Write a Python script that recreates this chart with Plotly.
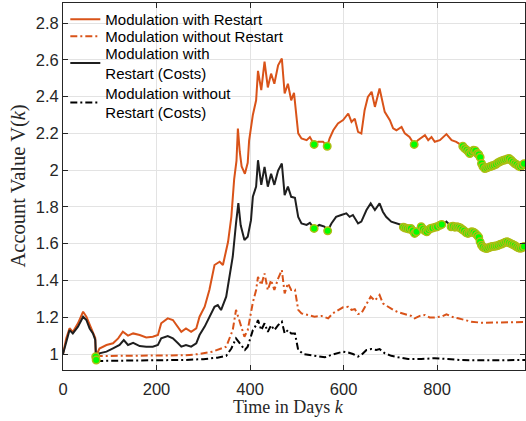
import plotly.graph_objects as go

# ---------------- data ----------------
days_restart = [0, 7, 14, 21, 32, 43, 50, 57, 64, 69, 70, 78, 93, 107, 118, 128, 139, 150, 164, 178,
                192, 203, 210, 224, 235, 246, 253, 263, 274, 285, 292, 303, 313, 324, 335, 342, 353, 360,
                366, 371, 374, 378, 382, 389, 395, 398, 406, 413, 417, 424, 431, 438, 445, 452, 460, 468,
                474, 481, 488, 494, 499, 503, 510, 521, 528, 537, 546, 556, 565, 570, 578, 588, 599, 610,
                617, 624, 631, 638, 645, 652, 660, 667, 677, 684, 688, 699, 706, 713, 724, 731, 741, 751,
                759, 774, 781, 788, 795, 806, 820, 831, 841, 852, 859, 870, 880, 891, 895, 902, 912, 923,
                934, 944, 955, 966, 977, 988]
value_restart = [1.0, 1.085, 1.14, 1.12, 1.167, 1.23, 1.203, 1.158, 1.12, 1.087, 0.985, 1.03, 1.049, 1.058,
                 1.085, 1.121, 1.1, 1.112, 1.103, 1.09, 1.094, 1.103, 1.167, 1.194, 1.185, 1.149, 1.121,
                 1.139, 1.121, 1.139, 1.203, 1.257, 1.348, 1.484, 1.502, 1.484, 1.61, 1.746, 1.95, 2.05,
                 2.226, 2.1, 2.02, 1.98, 2.04, 2.16, 2.30, 2.38, 2.54, 2.435, 2.59, 2.45, 2.525, 2.47, 2.57,
                 2.607, 2.417, 2.47, 2.38, 2.42, 2.30, 2.2, 2.172, 2.163, 2.18, 2.14, 2.155, 2.155, 2.13,
                 2.172, 2.217, 2.254, 2.272, 2.308, 2.262, 2.28, 2.208, 2.199, 2.326, 2.398, 2.426, 2.344,
                 2.444, 2.371, 2.317, 2.272, 2.227, 2.217, 2.235, 2.2, 2.18, 2.14, 2.163, 2.19, 2.163, 2.18,
                 2.154, 2.163, 2.196, 2.163, 2.154, 2.136, 2.118, 2.09, 2.109, 2.081, 2.036, 2.009, 2.018,
                 2.027, 2.045, 2.054, 2.063, 2.036, 2.018, 2.04]

days_norestart = [70, 150, 214, 263, 292, 320, 349, 363, 370, 377, 388, 395, 406, 413, 417, 424, 431, 438,
                  445, 452, 460, 468, 474, 481, 488, 496, 503, 510, 524, 538, 553, 567, 577, 588, 599, 610,
                  617, 624, 631, 638, 649, 658, 667, 677, 684, 695, 706, 717, 731, 745, 752, 763, 774, 784,
                  795, 809, 820, 831, 845, 859, 873, 895, 923, 952, 988]
value_norestart = [0.989, 0.989, 0.99, 0.993, 1.0, 1.013, 1.04, 1.13, 1.24, 1.185, 1.094, 1.13, 1.28, 1.348,
                   1.42, 1.375, 1.438, 1.348, 1.402, 1.348, 1.41, 1.457, 1.33, 1.384, 1.348, 1.35, 1.24,
                   1.221, 1.212, 1.203, 1.207, 1.194, 1.221, 1.24, 1.254, 1.257, 1.24, 1.244, 1.218, 1.221,
                   1.275, 1.312, 1.29, 1.321, 1.275, 1.257, 1.24, 1.227, 1.216, 1.207, 1.194, 1.207, 1.212,
                   1.199, 1.199, 1.203, 1.216, 1.203, 1.194, 1.185, 1.176, 1.17, 1.17, 1.172, 1.174]

days_restart_cost = [0, 7, 14, 21, 32, 43, 50, 57, 64, 69, 71, 78, 93, 107, 121, 130, 139, 150, 164, 178,
                     192, 203, 210, 224, 235, 246, 253, 263, 274, 285, 292, 303, 313, 324, 331, 338, 349, 356,
                     363, 370, 375, 380, 388, 395, 402, 406, 413, 417, 424, 431, 438, 445, 452, 460, 468, 474,
                     481, 488, 496, 503, 510, 521, 528, 537, 548, 559, 566, 574, 584, 595, 606, 613, 620, 631,
                     638, 649, 658, 667, 677, 684, 691, 702, 713, 724, 734, 745, 752, 763, 777, 788, 802, 816,
                     820, 831, 845, 856, 866, 877, 888, 895, 905, 916, 927, 937, 948, 959, 970, 980, 988]
value_restart_cost = [1.0, 1.067, 1.13, 1.112, 1.149, 1.203, 1.185, 1.139, 1.112, 1.076, 0.967, 1.004, 1.013,
                      1.031, 1.049, 1.076, 1.049, 1.061, 1.043, 1.04, 1.04, 1.049, 1.085, 1.098, 1.085, 1.058,
                      1.04, 1.049, 1.04, 1.058, 1.103, 1.149, 1.203, 1.257, 1.266, 1.239, 1.312, 1.42, 1.529,
                      1.71, 1.82, 1.70, 1.62, 1.638, 1.728, 1.855, 1.91, 2.054, 1.92, 2.018, 1.91, 1.98, 1.92,
                      1.998, 2.036, 1.864, 1.91, 1.855, 1.85, 1.746, 1.71, 1.702, 1.713, 1.683, 1.702, 1.693,
                      1.67, 1.71, 1.746, 1.756, 1.765, 1.746, 1.756, 1.71, 1.72, 1.783, 1.819, 1.783, 1.819,
                      1.774, 1.746, 1.72, 1.71, 1.702, 1.683, 1.683, 1.656, 1.683, 1.665, 1.683, 1.692, 1.71,
                      1.72, 1.692, 1.692, 1.674, 1.656, 1.665, 1.638, 1.592, 1.574, 1.583, 1.587, 1.597, 1.61,
                      1.6, 1.583, 1.574, 1.587]

days_norestart_cost = [71, 150, 214, 263, 300, 330, 349, 360, 370, 377, 389, 395, 406, 413, 417, 424, 431,
                       438, 445, 452, 460, 468, 474, 481, 488, 496, 503, 514, 528, 542, 560, 574, 588, 599,
                       610, 620, 631, 638, 649, 660, 670, 677, 688, 702, 717, 738, 766, 795, 823, 852, 895,
                       938, 988]
value_norestart_cost = [0.962, 0.963, 0.965, 0.968, 0.972, 0.98, 0.99, 1.03, 1.085, 1.06, 1.022, 1.04, 1.13,
                        1.157, 1.185, 1.13, 1.167, 1.12, 1.157, 1.13, 1.157, 1.176, 1.112, 1.13, 1.112, 1.112,
                        1.022, 1.0, 0.995, 0.986, 0.982, 0.995, 1.004, 1.013, 1.008, 1.0, 0.986, 0.995, 1.022,
                        1.027, 1.022, 1.027, 1.004, 0.99, 0.982, 0.973, 0.973, 0.977, 0.973, 0.967, 0.966,
                        0.966, 0.967]

# restart events (green markers)
restart_days = [70, 537, 565, 751, 855, 859, 863, 867, 870, 874, 878, 882, 886, 889, 892, 895, 898, 902,
                906, 910, 914, 918, 922, 926, 930, 934, 938, 942, 946, 950, 954, 958, 962, 966, 970, 974,
                978, 982, 986]
restart_vals = [0.985, 2.14, 2.13, 2.14, 2.13, 2.118, 2.11, 2.10, 2.09, 2.10, 2.108, 2.105, 2.09, 2.085,
                2.07, 2.036, 2.02, 2.009, 2.012, 2.016, 2.02, 2.024, 2.027, 2.032, 2.04, 2.045, 2.05, 2.054,
                2.056, 2.06, 2.063, 2.055, 2.045, 2.036, 2.03, 2.022, 2.018, 2.025, 2.035]

restart_cost_days = [71, 537, 566, 728, 732, 736, 740, 744, 748, 752, 756, 766, 770, 774, 778, 782, 786, 790,
                     796, 800, 806, 810, 830, 834, 838, 842, 846, 850, 854, 858, 862, 866, 870, 874, 878,
                     882, 886, 889, 892, 895, 898, 902, 906, 910, 914, 918, 922, 926, 930, 934, 938, 942,
                     946, 950, 954, 958, 962, 966, 970, 974, 978, 982, 986]
restart_cost_vals = [0.967, 1.683, 1.67, 1.69, 1.685, 1.683, 1.68, 1.683, 1.67, 1.656, 1.665, 1.692, 1.68,
                     1.67, 1.665, 1.675, 1.683, 1.685, 1.69, 1.692, 1.70, 1.705, 1.692, 1.695, 1.69, 1.692,
                     1.69, 1.685, 1.677, 1.67, 1.66, 1.656, 1.66, 1.665, 1.662, 1.655, 1.645, 1.635, 1.61,
                     1.592, 1.582, 1.576, 1.574, 1.578, 1.582, 1.584, 1.586, 1.587, 1.59, 1.595, 1.598,
                     1.603, 1.608, 1.61, 1.605, 1.6, 1.595, 1.59, 1.583, 1.578, 1.575, 1.578, 1.585]

x_ticks = [0, 200, 400, 600, 800]
y_ticks = [1, 1.2, 1.4, 1.6, 1.8, 2, 2.2, 2.4, 2.6, 2.8]

# ---------------- styling ----------------
ORANGE = "#D95319"
BLACK = "#1f1f1f"
DASHDOT = "7px,3px,2px,3px"
MARK_FILL = "#00ff00"
MARK_EDGE = "#aebd14"
SERIF = "Liberation Serif, Times New Roman, serif"
SANS = "Liberation Sans, Arial, sans-serif"

fig = go.Figure()
fig.add_trace(go.Scatter(x=days_restart, y=value_restart, mode="lines",
                         name="Modulation with Restart", legend="legend",
                         line=dict(color=ORANGE, width=2)))
fig.add_trace(go.Scatter(x=days_norestart, y=value_norestart, mode="lines",
                         name="Modulation without Restart", legend="legend2",
                         line=dict(color=ORANGE, width=2, dash=DASHDOT)))
fig.add_trace(go.Scatter(x=days_restart_cost, y=value_restart_cost, mode="lines",
                         name="Modulation with<br>Restart (Costs)", legend="legend3",
                         line=dict(color=BLACK, width=2)))
fig.add_trace(go.Scatter(x=days_norestart_cost, y=value_norestart_cost, mode="lines",
                         name="Modulation without<br>Restart (Costs)", legend="legend4",
                         line=dict(color="#000000", width=2, dash=DASHDOT)))
fig.add_trace(go.Scatter(x=restart_days, y=restart_vals, mode="markers", showlegend=False,
                         marker=dict(size=7.5, color=MARK_FILL, line=dict(color=MARK_EDGE, width=1.5))))
fig.add_trace(go.Scatter(x=restart_cost_days, y=restart_cost_vals, mode="markers", showlegend=False,
                         marker=dict(size=7.5, color=MARK_FILL, line=dict(color=MARK_EDGE, width=1.5))))

axis_common = dict(
    showgrid=True, gridcolor="#e3e3e3", gridwidth=1, zeroline=False,
    showline=True, linecolor="#262626", linewidth=1, mirror="ticks",
    ticks="inside", ticklen=5, tickcolor="#262626",
    tickfont=dict(family=SANS, size=16.5, color="#262626"),
    automargin=False,
)


def leg(yc, anchor="middle"):
    return dict(x=0.005, y=yc, xanchor="left", yanchor=anchor,
                bgcolor="rgba(0,0,0,0)", borderwidth=0,
                font=dict(family=SANS, size=15, color="#000000"))


fig.update_layout(
    width=526, height=421,
    margin=dict(l=63, r=1, t=3, b=51, autoexpand=False),
    paper_bgcolor="white", plot_bgcolor="white",
    xaxis=dict(range=[0, 988], tickvals=x_ticks, ticklabelstandoff=4, **axis_common),
    yaxis=dict(range=[0.913, 2.909], tickvals=y_ticks, **axis_common),
    legend=leg(1.0, "top"),
    legend2=leg(0.909),
    legend3=leg(0.8365),
    legend4=leg(0.729),
    showlegend=True,
    hovermode=False,
    annotations=[
        dict(text="Time in Days <i>k</i>", xref="paper", yref="paper", x=0.489, y=-0.1,
             xanchor="center", yanchor="middle", showarrow=False,
             font=dict(family=SERIF, size=18, color="#262626")),
        dict(text="Account Value V(<i>k</i>)", xref="paper", yref="paper", x=-0.0974, y=0.5,
             xanchor="center", yanchor="middle", showarrow=False, textangle=-90,
             font=dict(family=SERIF, size=20.5, color="#262626")),
    ],
)

fig.write_html("out.html", config={"displayModeBar": False},
               post_script="document.body.style.margin='0';document.body.style.padding='0';")
